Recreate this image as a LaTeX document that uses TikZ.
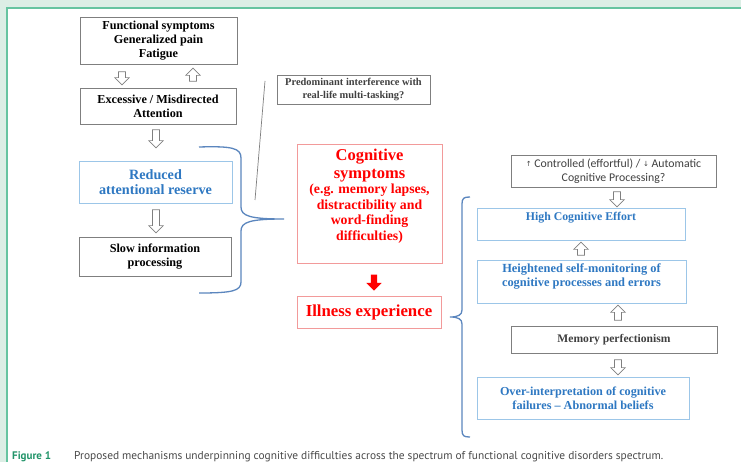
\documentclass[tikz,border=0pt]{standalone}
\usepackage{fontspec}
\setmainfont{Liberation Serif}
\newfontfamily\capfont{PT Sans}
\newfontfamily\calfont{Carlito}
\newfontfamily\symfont{DejaVu Sans}
\usetikzlibrary{shapes.arrows}
\definecolor{bgreen}{HTML}{DCEEE5}
\definecolor{fgreen}{HTML}{66C4A0}
\definecolor{capgreen}{HTML}{23956A}
\definecolor{captext}{HTML}{4A4A4A}
\definecolor{boxgray}{HTML}{7F7F7F}
\definecolor{txtgray}{HTML}{404040}
\definecolor{bluetxt}{HTML}{2E78C2}
\definecolor{blueline}{HTML}{9CC6E8}
\definecolor{redline}{HTML}{F29A9A}
\definecolor{bracecol}{HTML}{5B86BE}
\tikzset{
  box/.style={draw=boxgray, line width=0.8pt, inner sep=0pt, align=center},
  bbox/.style={draw=blueline, line width=0.8pt, inner sep=0pt, align=center},
  rbox/.style={draw=redline, line width=0.8pt, inner sep=0pt, align=center},
  blk/.style={font=\fontsize{12.2}{13.8}\selectfont\bfseries, text=black},
  harrow/.style={single arrow, draw=boxgray, fill=white, line width=0.7pt,
    inner sep=3.2pt, minimum width=0pt, single arrow head extend=3.6pt,
    single arrow head indent=0pt},
  bracestyle/.style={draw=bracecol, line width=1.3pt},
}
\begin{document}
\begin{tikzpicture}[x=1pt,y=-1pt]
\useasboundingbox (0,0) rectangle (741,462);
% frame
\fill[bgreen] (0,0) rectangle (741,462);
\fill[white] (7,8) rectangle (745,470);
\draw[fgreen, line width=1.4pt] (7,470) -- (7,8) -- (745,8);

% left column
\node[box, blk, minimum width=157pt, minimum height=47pt] (fs) at (158.5,40.5)
  {Functional symptoms\\Generalized pain\\Fatigue};
\node[box, blk, minimum width=156pt, minimum height=36pt] (ea) at (158,106)
  {Excessive / Misdirected\\Attention};
\node[bbox, font=\fontsize{14.2}{15.5}\selectfont\bfseries, text=bluetxt,
  minimum width=153pt, minimum height=42pt] (rr) at (155.5,182)
  {Reduced\\attentional reserve};
\node[box, blk, minimum width=152pt, minimum height=39pt] (sp) at (155,256.5)
  {Slow information\\processing};

\node[harrow, minimum height=13pt, shape border rotate=270] (a1) at (122,76.5) {};
\node[harrow, minimum height=13pt, shape border rotate=90] (a2) at (193,76.5) {};
\node[harrow, minimum height=18pt, shape border rotate=270] (a3) at (156,137) {};
\node[harrow, minimum height=23pt, shape border rotate=270] (a4) at (156,219.5) {};

% left brace
\coordinate (lbt) at (199,147);
\coordinate (lbm) at (284,219);
\coordinate (lbb) at (199,293);
\draw[bracestyle] (lbt) .. controls (232,146) and (241,148) .. (241,158)
  -- (241,207) .. controls (241,216) and (250,219) .. (lbm)
  .. controls (250,219) and (241,222) .. (241,231)
  -- (241,282) .. controls (241,291) and (232,293) .. (lbb);

% thin line
\coordinate (tl1) at (265,81);
\coordinate (tl2) at (255,200);
\draw[boxgray, line width=0.7pt] (tl1) -- (tl2);

\node[box, font=\fontsize{10.4}{12.5}\selectfont\bfseries, text=txtgray,
  minimum width=153pt, minimum height=29pt] (pi) at (353.5,89.5)
  {Predominant interference with\\real-life multi-tasking?};

% centre
\node[rbox, minimum width=145pt, minimum height=119pt] (cs) at (369.5,203.5) {};
\node[text=red, align=center, inner sep=0pt, font=\fontsize{16.5}{18}\selectfont\bfseries] (cst) at (369.5,166)
  {Cognitive\\symptoms};
\node[text=red, align=center, inner sep=0pt, font=\fontsize{13.8}{15.5}\selectfont\bfseries] (csd) at (369.5,213.5)
  {(e.g. memory lapses,\\distractibility and\\word-finding\\difficulties)};
\node[single arrow, fill=red, draw=none, inner sep=3pt, minimum width=0pt,
  single arrow head extend=4.5pt, single arrow head indent=0pt,
  minimum height=16pt, shape border rotate=270] (ra) at (374,281) {};
\node[rbox, font=\fontsize{16.8}{18}\selectfont\bfseries, text=red,
  minimum width=144pt, minimum height=32pt] (ie) at (369,312) {Illness experience};

% right brace
\coordinate (rbt) at (470,197);
\coordinate (rbm) at (450,317);
\coordinate (rbb) at (470,437);
\draw[bracestyle] (rbt) .. controls (464,197) and (462,198) .. (462,204)
  -- (462,310) .. controls (462,315) and (458,317) .. (rbm)
  .. controls (458,317) and (462,319) .. (462,324)
  -- (462,430) .. controls (462,436) and (464,437) .. (rbb);

% right column
\node[box, font=\fontsize{11.8}{14}\selectfont\calfont, text=txtgray,
  minimum width=205pt, minimum height=32pt] (cp) at (613.5,171)
  {{\symfont\fontsize{7}{8}\selectfont\raisebox{1pt}{↑}} Controlled (effortful) / {\symfont\fontsize{7}{8}\selectfont\raisebox{1pt}{↓}} Automatic\\Cognitive Processing?};
\node[bbox, minimum width=208pt, minimum height=32pt] (hce) at (581,224) {};
\node[text=bluetxt, font=\fontsize{11.8}{13}\selectfont\bfseries, inner sep=0pt] (hcet) at (581,218) {High Cognitive Effort};
\node[bbox, minimum width=209pt, minimum height=43pt] (hsm) at (581.5,281.5) {};
\node[text=bluetxt, font=\fontsize{12.4}{14.5}\selectfont\bfseries, align=center, inner sep=0pt] (hsmt) at (581.5,276.5)
  {Heightened self-monitoring of\\cognitive processes and errors};
\node[box, font=\fontsize{11.6}{13}\selectfont\bfseries, text=txtgray,
  minimum width=206pt, minimum height=27pt] (mp) at (614,339.5) {Memory perfectionism};
\node[bbox, font=\fontsize{12.2}{13.8}\selectfont\bfseries, text=bluetxt,
  minimum width=212pt, minimum height=42pt] (oi) at (583,398)
  {Over-interpretation of cognitive\\failures -- Abnormal beliefs};

\node[harrow, minimum height=15pt, shape border rotate=270] (r1) at (617,197.5) {};
\node[harrow, minimum height=13pt, shape border rotate=90] (r2) at (581,250.5) {};
\node[harrow, minimum height=15pt, shape border rotate=90] (r3) at (618,314.5) {};
\node[harrow, minimum height=15pt, shape border rotate=270] (r4) at (618,365.5) {};

% caption
\node[anchor=base west, inner sep=0pt, text=capgreen, font=\capfont\bfseries\fontsize{11}{13}\selectfont] (fig) at (12,459.5) {Figure 1};
\node[anchor=base west, inner sep=0pt, text=captext, font=\capfont\fontsize{11.4}{13}\selectfont] (cap) at (74,459.5)
  {Proposed mechanisms underpinning cognitive difficulties across the spectrum of functional cognitive disorders spectrum.};
\end{tikzpicture}
\end{document}
